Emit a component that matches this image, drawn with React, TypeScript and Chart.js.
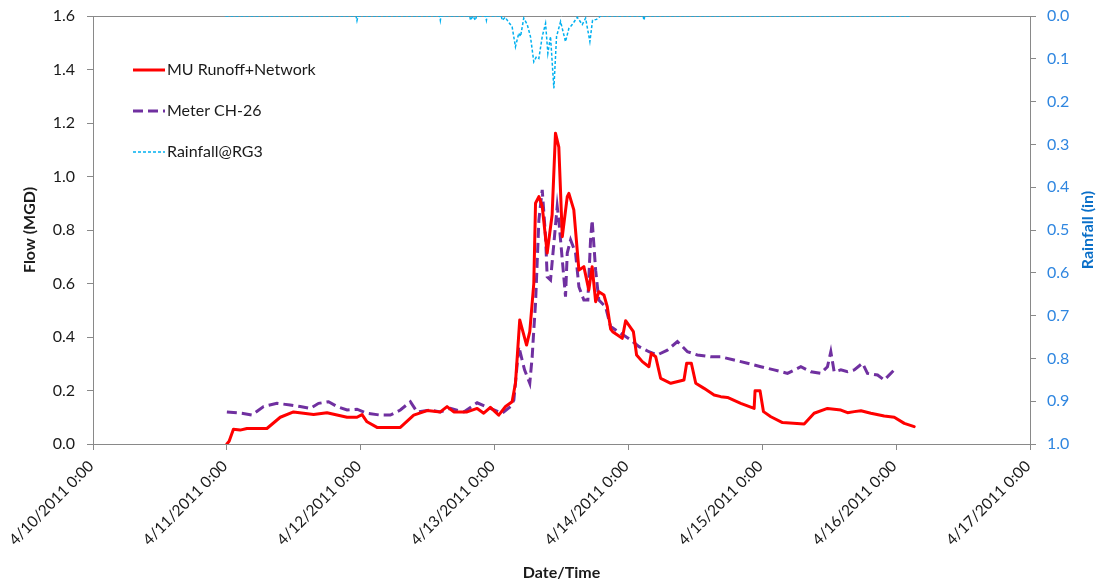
import React, { useEffect, useRef } from "react";
import { Chart, registerables } from "chart.js";

Chart.register(...registerables);

// x values are days since 4/10/2011 0:00
const xTickLabels = [
  "4/10/2011 0:00",
  "4/11/2011 0:00",
  "4/12/2011 0:00",
  "4/13/2011 0:00",
  "4/14/2011 0:00",
  "4/15/2011 0:00",
  "4/16/2011 0:00",
  "4/17/2011 0:00",
];
const flowTicks = [0, 0.2, 0.4, 0.6, 0.8, 1.0, 1.2, 1.4, 1.6];
const rainTicks = [0, 0.1, 0.2, 0.3, 0.4, 0.5, 0.6, 0.7, 0.8, 0.9, 1.0];

const runoffDays = [
  1.0, 1.017, 1.049, 1.099, 1.15, 1.299, 1.399, 1.498, 1.648, 1.748, 1.898, 1.972, 2.01, 2.047, 2.122,
  2.296, 2.396, 2.496, 2.595, 2.645, 2.695, 2.795, 2.87, 2.919, 2.969, 3.031, 3.082, 3.131, 3.156, 3.188,
  3.239, 3.263, 3.293, 3.306, 3.331, 3.356, 3.393, 3.43, 3.455, 3.48, 3.506, 3.543, 3.555, 3.592, 3.63,
  3.667, 3.704, 3.729, 3.755, 3.779, 3.817, 3.842, 3.867, 3.882, 3.954, 3.979, 4.037, 4.061, 4.104, 4.153,
  4.171, 4.204, 4.241, 4.316, 4.415, 4.435, 4.47, 4.503, 4.565, 4.64, 4.69, 4.74, 4.839, 4.939, 4.946,
  4.983, 5.009, 5.064, 5.151, 5.313, 5.387, 5.487, 5.587, 5.637, 5.687, 5.737, 5.811, 5.911, 5.986, 6.061,
  6.135,
];
const runoffFlow = [
  0, 0.01, 0.055, 0.052, 0.058, 0.058, 0.1, 0.12, 0.11, 0.117, 0.1, 0.1, 0.11, 0.083, 0.062,
  0.062, 0.108, 0.125, 0.12, 0.14, 0.12, 0.12, 0.133, 0.115, 0.137, 0.108, 0.14, 0.158, 0.227, 0.464,
  0.37, 0.42, 0.6, 0.9, 0.925, 0.888, 0.714, 0.857, 1.162, 1.11, 0.775, 0.925, 0.937, 0.875, 0.65,
  0.663, 0.576, 0.663, 0.532, 0.569, 0.557, 0.513, 0.43, 0.42, 0.395, 0.461, 0.42, 0.333, 0.308, 0.289,
  0.339, 0.326, 0.245, 0.227, 0.239, 0.302, 0.302, 0.227, 0.208, 0.183, 0.177, 0.174, 0.152, 0.133, 0.199,
  0.199, 0.121, 0.102, 0.08, 0.075, 0.115, 0.133, 0.127, 0.117, 0.121, 0.124, 0.115, 0.105, 0.1, 0.077,
  0.065,
];

const meterDays = [
  1.0, 1.112, 1.187, 1.274, 1.374, 1.473, 1.548, 1.623, 1.685, 1.76, 1.823, 1.898, 1.972, 2.047, 2.147,
  2.221, 2.296, 2.371, 2.421, 2.521, 2.595, 2.67, 2.77, 2.87, 2.969, 3.057, 3.119, 3.144, 3.181, 3.224,
  3.263, 3.281, 3.293, 3.306, 3.331, 3.356, 3.381, 3.393, 3.418, 3.443, 3.468, 3.48, 3.506, 3.53, 3.543,
  3.568, 3.605, 3.63, 3.667, 3.697, 3.717, 3.729, 3.755, 3.779, 3.829, 3.867, 3.942, 4.017, 4.079, 4.153,
  4.216, 4.291, 4.366, 4.441, 4.515, 4.615, 4.69, 4.789, 4.889, 4.989, 5.088, 5.188, 5.288, 5.363, 5.437,
  5.487, 5.512, 5.537, 5.587, 5.637, 5.687, 5.749, 5.786, 5.861, 5.911, 5.986,
];
const meterFlow = [
  0.12, 0.115, 0.108, 0.14, 0.152, 0.146, 0.14, 0.133, 0.152, 0.158, 0.14, 0.127, 0.13, 0.115, 0.108,
  0.108, 0.127, 0.158, 0.12, 0.127, 0.12, 0.133, 0.12, 0.154, 0.133, 0.115, 0.14, 0.164, 0.364, 0.277,
  0.227, 0.326, 0.426, 0.526, 0.837, 0.95, 0.775, 0.625, 0.613, 0.75, 0.888, 0.837, 0.688, 0.551, 0.714,
  0.763, 0.714, 0.588, 0.538, 0.538, 0.763, 0.837, 0.65, 0.538, 0.513, 0.439, 0.414, 0.389, 0.364, 0.345,
  0.333, 0.351, 0.383, 0.345, 0.333, 0.326, 0.326, 0.314, 0.302, 0.289, 0.277, 0.264, 0.289, 0.27, 0.264,
  0.289, 0.345, 0.27, 0.277, 0.27, 0.277, 0.302, 0.264, 0.258, 0.239, 0.277,
];

const rainDays = [
  0.99, 1.965, 1.972, 1.98, 2.59, 2.595, 2.6, 2.815, 2.82, 2.838, 2.857, 2.865, 2.933, 2.939, 2.945,
  3.05, 3.057, 3.08, 3.106, 3.131, 3.156, 3.181, 3.194, 3.218, 3.244, 3.268, 3.293, 3.313, 3.331, 3.356,
  3.381, 3.398, 3.418, 3.443, 3.463, 3.493, 3.53, 3.555, 3.58, 3.618, 3.655, 3.68, 3.712, 3.732, 3.762,
  3.792, 4.11, 4.116, 4.122, 6.103,
];
const rainIn = [
  0, 0, 0.011, 0, 0, 0.01, 0, 0, 0.01, 0, 0.01, 0, 0, 0.01, 0,
  0, 0.01, 0.003, 0.015, 0.025, 0.072, 0.04, 0.048, 0.005, 0.02, 0.048, 0.107, 0.095, 0.099, 0.048,
  0.017, 0.087, 0.048, 0.169, 0.048, 0.013, 0.06, 0.029, 0.02, 0.003, 0.02, 0.005, 0.06, 0.01, 0.008,
  0, 0, 0.01, 0, 0,
];

const FONT = "Lato, 'Open Sans', sans-serif";
const AXIS_GREY = "#898989";
const TEXT = "#1a1a1a";

const toPoints = (xs: number[], ys: number[]) => xs.map((x, i) => ({ x, y: ys[i] }));

const zeroPad = (s: any) => {
  s.paddingTop = 0;
  s.paddingBottom = 0;
  s.paddingLeft = 0;
  s.paddingRight = 0;
};

const frameAndLabels = {
  id: "frameAndLabels",
  beforeDatasetsDraw(chart: any) {
    const { ctx, chartArea } = chart;
    ctx.save();
    ctx.strokeStyle = AXIS_GREY;
    ctx.lineWidth = 1;
    ctx.beginPath();
    ctx.moveTo(chartArea.left, chartArea.top + 0.5);
    ctx.lineTo(chartArea.right, chartArea.top + 0.5);
    ctx.stroke();
    ctx.restore();
  },
  afterDraw(chart: any) {
    const { ctx, chartArea } = chart;
    // right axis title (reads bottom to top)
    ctx.save();
    ctx.translate(1088, (chartArea.top + chartArea.bottom) / 2);
    ctx.rotate(-Math.PI / 2);
    ctx.font = `bold 16px ${FONT}`;
    ctx.fillStyle = "#0A6FC8";
    ctx.textAlign = "center";
    ctx.textBaseline = "middle";
    ctx.fillText("Rainfall (in)", 0, 0);
    ctx.restore();

    // legend inside the plot area
    const rowsY = [70, 111, 152];
    chart.data.datasets.forEach((ds: any, i: number) => {
      const y = rowsY[i];
      ctx.save();
      ctx.strokeStyle = ds.borderColor;
      ctx.lineWidth = ds.borderWidth;
      ctx.setLineDash(ds.borderDash || []);
      ctx.beginPath();
      ctx.moveTo(133, y);
      ctx.lineTo(165, y);
      ctx.stroke();
      ctx.setLineDash([]);
      ctx.font = `16px ${FONT}`;
      ctx.fillStyle = TEXT;
      ctx.textAlign = "left";
      ctx.textBaseline = "middle";
      ctx.fillText(ds.label, 167, y);
      ctx.restore();
    });
  },
};

export default function App() {
  const ref = useRef<HTMLCanvasElement | null>(null);
  useEffect(() => {
    document.body.style.margin = "0";
    const canvas = ref.current;
    if (!canvas) return;
    const chart = new Chart(canvas, {
      type: "line",
      data: {
        datasets: [
          {
            label: "MU Runoff+Network",
            data: toPoints(runoffDays, runoffFlow),
            borderColor: "#FF0000",
            borderWidth: 3,
            borderJoinStyle: "round",
            borderCapStyle: "round",
            pointRadius: 0,
            tension: 0,
            yAxisID: "y",
          },
          {
            label: "Meter CH-26",
            data: toPoints(meterDays, meterFlow),
            borderColor: "#7030A0",
            borderWidth: 3,
            borderDash: [10, 5],
            pointRadius: 0,
            tension: 0,
            yAxisID: "y",
          },
          {
            label: "Rainfall@RG3",
            data: toPoints(rainDays, rainIn),
            borderColor: "#00B0F0",
            borderWidth: 1.5,
            borderDash: [3, 2],
            pointRadius: 0,
            tension: 0,
            yAxisID: "y1",
          },
        ],
      },
      options: {
        animation: false,
        responsive: false,
        layout: { padding: { top: 16, left: 0, right: 0, bottom: 0 } },
        plugins: { legend: { display: false }, tooltip: { enabled: false } },
        scales: {
          x: {
            type: "linear",
            position: "bottom",
            min: 0,
            max: 7,
            afterBuildTicks: (s: any) => {
              s.ticks = xTickLabels.map((_, i) => ({ value: i }));
            },
            afterFit: (s: any) => {
              s.height = 140;
              zeroPad(s);
            },
            ticks: {
              callback: (v: any) => xTickLabels[Math.round(Number(v))] ?? "",
              minRotation: 45,
              maxRotation: 45,
              autoSkip: false,
              padding: 7,
              labelOffset: -2,
              color: TEXT,
              font: { family: FONT, size: 15.5 },
            },
            grid: { drawOnChartArea: false, drawTicks: true, tickLength: 6, color: AXIS_GREY },
            border: { display: true, color: AXIS_GREY },
            title: {
              display: true,
              text: "Date/Time",
              color: TEXT,
              font: { family: FONT, size: 16, weight: "bold" },
              padding: { top: 0, bottom: 2 },
            },
          },
          y: {
            type: "linear",
            position: "left",
            min: 0,
            max: 1.6,
            afterBuildTicks: (s: any) => {
              s.ticks = flowTicks.map((v) => ({ value: v }));
            },
            afterFit: (s: any) => {
              s.width = 93;
              zeroPad(s);
            },
            ticks: {
              callback: (v: any) => Number(v).toFixed(1),
              padding: 12,
              color: TEXT,
              font: { family: FONT, size: 16 },
            },
            grid: { drawOnChartArea: false, drawTicks: true, tickLength: 6, color: AXIS_GREY },
            border: { display: true, color: AXIS_GREY },
            title: {
              display: true,
              text: "Flow (MGD)",
              color: TEXT,
              font: { family: FONT, size: 16, weight: "bold" },
              padding: { top: 20, bottom: 0 },
            },
          },
          y1: {
            type: "linear",
            position: "right",
            min: 0,
            max: 1,
            reverse: true,
            afterBuildTicks: (s: any) => {
              s.ticks = rainTicks.map((v) => ({ value: v }));
            },
            afterFit: (s: any) => {
              s.width = 66;
              zeroPad(s);
            },
            ticks: {
              callback: (v: any) => Number(v).toFixed(1),
              padding: 11,
              color: "#2F86E0",
              font: { family: FONT, size: 16 },
            },
            grid: { drawOnChartArea: false, drawTicks: true, tickLength: 6, color: AXIS_GREY },
            border: { display: true, color: AXIS_GREY },
            title: { display: false },
          },
        },
      },
      plugins: [frameAndLabels],
    } as any);
    return () => chart.destroy();
  }, []);

  return (
    <div style={{ position: "fixed", left: 0, top: 0, width: 1096, height: 584, background: "#fff" }}>
      <canvas ref={ref} width={1096} height={584} />
    </div>
  );
}
